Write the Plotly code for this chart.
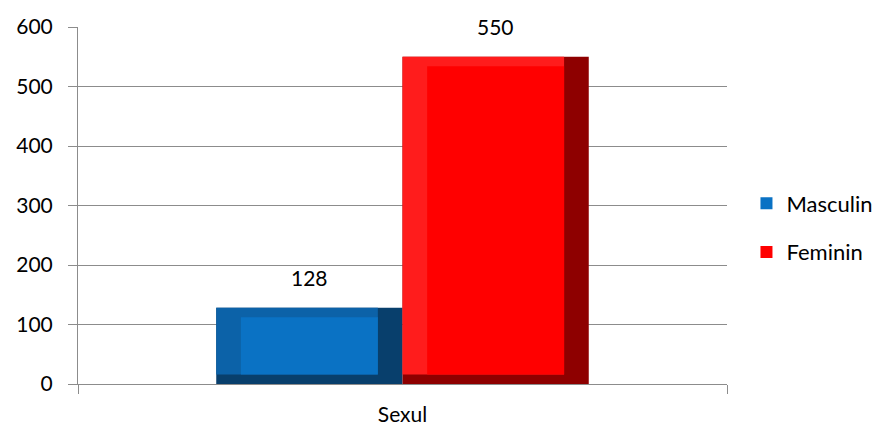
import plotly.graph_objects as go

category = ["Sexul"]
series_names = ["Masculin", "Feminin"]
series_values = [[128], [550]]
y_ticks = [0, 100, 200, 300, 400, 500, 600]

face_colors = ["#0a72c4", "#ff0000"]
light_colors = ["#0c62a8", "#ff1c1c"]
dark_colors = ["#083f6c", "#8e0000"]
offsets = [-0.287, 0.0]
bar_width = 0.287
bevel = 0.038      # horizontal bevel, category units
bevel_y = 16       # vertical bevel, value units

FONT = "Lato"
GRID = "#8c8c8c"
PLOT_W = 649  # plot area width in px

fig = go.Figure()

for name, vals, face, light, dark, off in zip(series_names, series_values, face_colors,
                                              light_colors, dark_colors, offsets):
    # dark right / bottom bevel
    fig.add_trace(go.Bar(
        x=category, y=vals, offset=off, width=bar_width,
        marker=dict(color=dark, line=dict(width=0)),
        showlegend=False, legendgroup=name, hoverinfo="skip",
    ))
    # lighter left / top bevel
    fig.add_trace(go.Bar(
        x=category, y=[v - bevel_y for v in vals], base=bevel_y,
        offset=off, width=bar_width - bevel,
        marker=dict(color=light, line=dict(width=0)),
        showlegend=False, legendgroup=name, hoverinfo="skip",
    ))
    # face
    fig.add_trace(go.Bar(
        x=category, y=[v - 2 * bevel_y for v in vals], base=bevel_y,
        offset=off + bevel, width=bar_width - 2 * bevel,
        marker=dict(color=face, line=dict(width=0)),
        name=name, legendgroup=name, showlegend=True,
    ))
    fig.add_annotation(
        x=category[0], y=vals[0], xref="x", yref="y",
        text=str(vals[0]), showarrow=False,
        xshift=(off + bar_width / 2) * PLOT_W, yshift=16, yanchor="bottom",
        font=dict(family=FONT, size=21, color="#000000"),
    )

fig.update_layout(
    width=882, height=428,
    margin=dict(l=70, r=163, t=19, b=52, autoexpand=False),
    paper_bgcolor="white", plot_bgcolor="white",
    barmode="overlay",
    font=dict(family=FONT, size=21, color="#000000"),
    legend=dict(
        x=1.03, xanchor="left", y=0.437, yanchor="middle",
        font=dict(family=FONT, size=22), tracegroupgap=17,
        itemwidth=30,
    ),
    xaxis=dict(
        range=[-0.5, 0.5], automargin=False,
        showline=True, linecolor=GRID, linewidth=1,
        ticks="outside", ticklen=9, tickcolor=GRID,
        tickson="boundaries", showgrid=False,
        ticklabelstandoff=12,
        tickfont=dict(family=FONT, size=21),
        fixedrange=True,
    ),
    yaxis=dict(
        range=[0, 600], tickvals=y_ticks, automargin=False,
        showline=True, linecolor=GRID, linewidth=1,
        showgrid=True, gridcolor=GRID, gridwidth=1,
        ticks="outside", ticklen=9, tickcolor=GRID,
        ticklabelstandoff=11, zeroline=False,
        tickfont=dict(family=FONT, size=21),
        fixedrange=True,
    ),
)

fig.write_html("out.html")
